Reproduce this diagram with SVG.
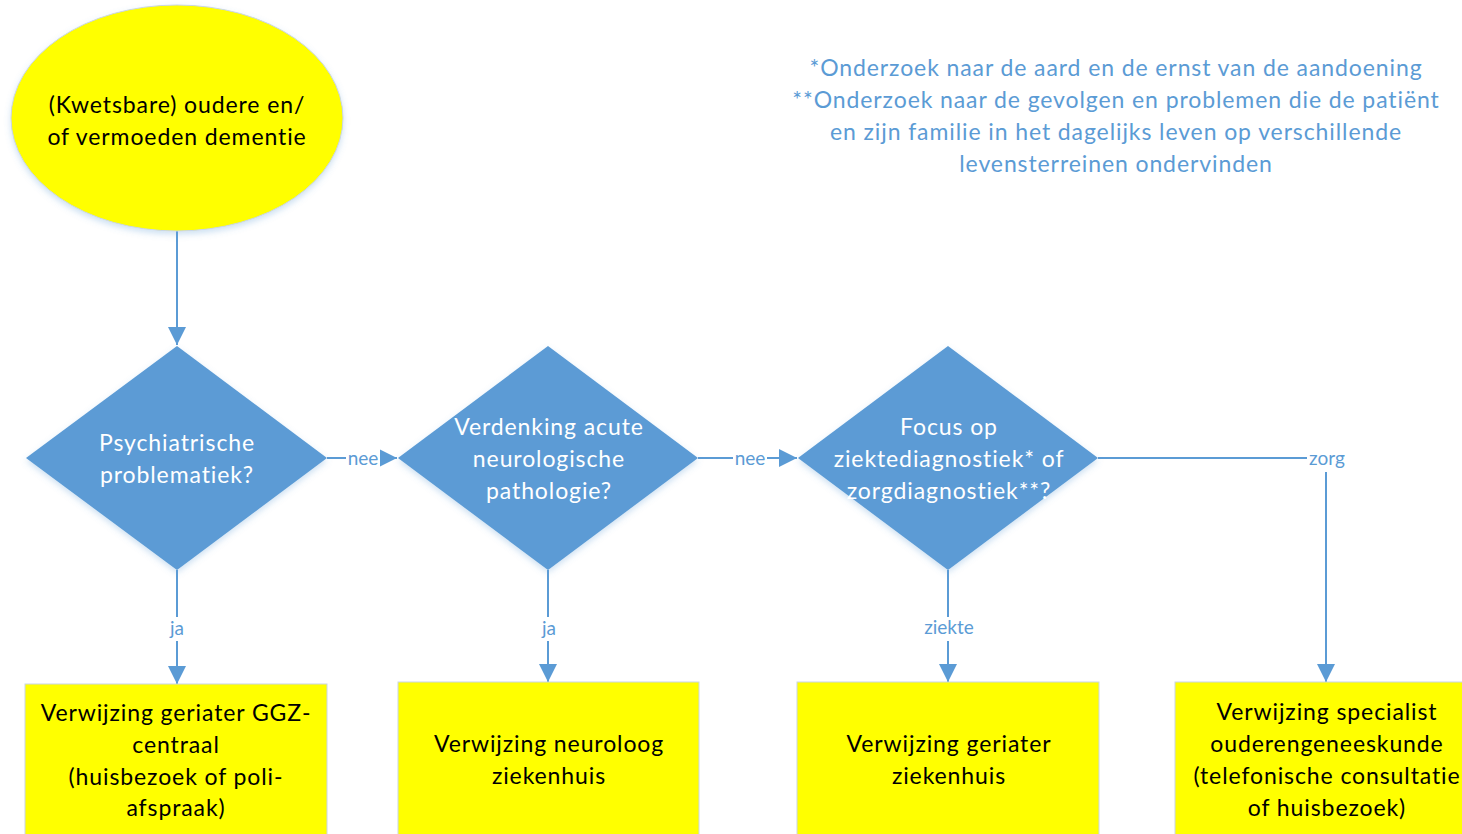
<svg xmlns="http://www.w3.org/2000/svg" width="1462" height="834" viewBox="0 0 1462 834">
<style>
.t{font-family:Lato,"Open Sans","Liberation Sans",sans-serif;font-size:23px;text-anchor:middle;letter-spacing:0.9px}
.dk{fill:#000}
.wh{fill:#fff}
.bl{fill:#5b9bd5}
.lbl{font-family:Lato,"Open Sans","Liberation Sans",sans-serif;font-size:19px;text-anchor:middle;fill:#5b9bd5}
.con{fill:none;stroke:#5b9bd5;stroke-width:2}
.dia{fill:#5b9bd5;filter:url(#sh)}
.box{fill:#ffff00;stroke:#c9d6e6;stroke-width:1}
</style>
<defs>
<marker id="ah" viewBox="0 0 18 18" refX="18" refY="9" markerWidth="18" markerHeight="18" markerUnits="userSpaceOnUse" orient="auto">
<path d="M0,0 L18,9 L0,18 Z" fill="#5b9bd5"/>
</marker>
<filter id="sh" x="-10%" y="-10%" width="120%" height="125%">
<feDropShadow dx="0" dy="3" stdDeviation="3" flood-color="#5b9bd5" flood-opacity="0.3"/>
</filter>
</defs>
<rect width="1462" height="834" fill="#fff"/>

<g id="connectors">
<line class="con" x1="177" y1="231" x2="177" y2="345" marker-end="url(#ah)"/>
<line class="con" x1="327" y1="458" x2="397" y2="458" marker-end="url(#ah)"/>
<line class="con" x1="698" y1="458" x2="797" y2="458" marker-end="url(#ah)"/>
<polyline class="con" points="1098,458 1326,458 1326,682" marker-end="url(#ah)"/>
<line class="con" x1="177" y1="570" x2="177" y2="684" marker-end="url(#ah)"/>
<line class="con" x1="548" y1="570" x2="548" y2="682" marker-end="url(#ah)"/>
<line class="con" x1="948" y1="570" x2="948" y2="682" marker-end="url(#ah)"/>
<rect x="346" y="448" width="34" height="20" fill="#fff"/>
<text class="lbl" x="363" y="465">nee</text>
<rect x="733" y="448" width="34" height="20" fill="#fff"/>
<text class="lbl" x="750" y="465">nee</text>
<rect x="1307" y="448" width="38" height="24" fill="#fff"/>
<text class="lbl" x="1327" y="465">zorg</text>
<rect x="165" y="617" width="24" height="24" fill="#fff"/>
<text class="lbl" x="177" y="635">ja</text>
<rect x="536" y="617" width="24" height="24" fill="#fff"/>
<text class="lbl" x="549" y="635">ja</text>
<rect x="920" y="617" width="58" height="24" fill="#fff"/>
<text class="lbl" x="949" y="634">ziekte</text>
</g>

<g id="start">
<ellipse cx="177" cy="118" rx="166" ry="113" fill="#ffff00" stroke="#c9d6e6" stroke-width="1" filter="url(#sh)"/>
<text class="t dk" x="177" y="113">(Kwetsbare) oudere en/</text>
<text class="t dk" x="177" y="145">of vermoeden dementie</text>
</g>

<g id="d1">
<polygon class="dia" points="177,346 327,458 177,570 26,458"/>
<text class="t wh" x="177" y="451">Psychiatrische</text>
<text class="t wh" x="177" y="483">problematiek?</text>
</g>

<g id="d2">
<polygon class="dia" points="548,346 698,458 548,570 398,458"/>
<text class="t wh" x="549" y="435">Verdenking acute</text>
<text class="t wh" x="549" y="467">neurologische</text>
<text class="t wh" x="549" y="499">pathologie?</text>
</g>

<g id="d3">
<polygon class="dia" points="948,346 1098,458 948,570 798,458"/>
<text class="t wh" x="949" y="435">Focus op</text>
<text class="t wh" x="949" y="467">ziektediagnostiek* of</text>
<text class="t wh" x="949" y="499">zorgdiagnostiek**?</text>
</g>

<g id="b1">
<rect class="box" x="25" y="684" width="302" height="160"/>
<text class="t dk" x="176" y="721">Verwijzing geriater GGZ-</text>
<text class="t dk" x="176" y="753">centraal</text>
<text class="t dk" x="176" y="785">(huisbezoek of poli-</text>
<text class="t dk" x="176" y="816">afspraak)</text>
</g>

<g id="b2">
<rect class="box" x="398" y="682" width="301" height="162" stroke="none"/>
<text class="t dk" x="549" y="752">Verwijzing neuroloog</text>
<text class="t dk" x="549" y="784">ziekenhuis</text>
</g>

<g id="b3">
<rect class="box" x="797" y="682" width="302" height="162"/>
<text class="t dk" x="949" y="752">Verwijzing geriater</text>
<text class="t dk" x="949" y="784">ziekenhuis</text>
</g>

<g id="b4">
<rect class="box" x="1175" y="682" width="302" height="162"/>
<text class="t dk" x="1327" y="720">Verwijzing specialist</text>
<text class="t dk" x="1327" y="752">ouderengeneeskunde</text>
<text class="t dk" x="1327" y="784">(telefonische consultatie</text>
<text class="t dk" x="1327" y="816">of huisbezoek)</text>
</g>

<g id="footnote">
<text class="t bl" x="1116" y="76">*Onderzoek naar de aard en de ernst van de aandoening</text>
<text class="t bl" x="1116" y="108">**Onderzoek naar de gevolgen en problemen die de patiënt</text>
<text class="t bl" x="1116" y="140">en zijn familie in het dagelijks leven op verschillende</text>
<text class="t bl" x="1116" y="172">levensterreinen ondervinden</text>
</g>
</svg>
